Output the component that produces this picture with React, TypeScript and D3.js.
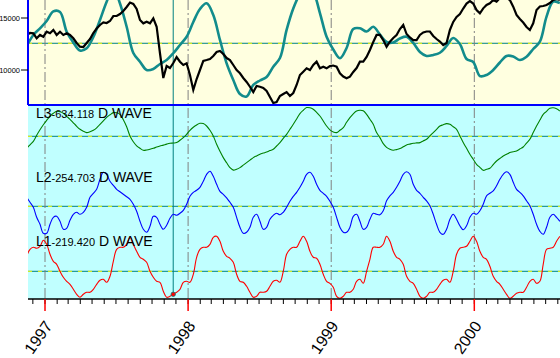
import React from "react";
import * as d3 from "d3";

const W = 560;
const H = 358;

// sampling of the series
const START = new Date(1996, 10, 15, 6);
const STEP_DAYS = 8.5;
const COMPOSITE_STEP_DAYS = 17;

const yearTicks = [1997, 1998, 1999, 2000];
const priceTicks = [10000, 15000];
const cursorDate = new Date(1997, 10, 24);

const waveNames = ["L3", "L2", "L1"];
const wavePeriods = ["-634.118", "-254.703", "-219.420"];
const waveSuffix = "D WAVE";

// price (daily close, sampled)
const price = [
  13370, 13560, 13530, 13050, 13370, 13200, 13680, 13530, 13850, 13370,
  13680, 13370, 13530, 13370, 13050, 12600, 12240, 12210, 12600, 12980,
  13560, 13990, 14330, 14570, 14520, 14710, 15190, 15190, 15380, 15670,
  16060, 16490, 16350, 15870, 14810, 14490, 14640, 14490, 14970, 14160,
  11610, 9230, 10390, 10190, 10670, 11250, 10800, 10480, 10640, 9520,
  8080, 9130, 10000, 10870, 10960, 11060, 11350, 11730, 11830, 11540,
  11150, 10960, 10480, 10000, 9680, 9230, 8850, 8390, 7880, 8460,
  8390, 8270, 7980, 7400, 6830, 6920, 7500, 7690, 7880, 7500,
  7790, 8560, 9520, 9840, 10160, 10000, 10480, 10800, 10160, 10320,
  10160, 10380, 10430, 10320, 9680, 9370, 9200, 9360, 9810, 10190,
  10800, 10800, 11250, 11920, 12690, 13370, 13370, 12880, 12240, 12720,
  13080, 13370, 13940, 14330, 13460, 13130, 12880, 12880, 13370, 13610,
  13700, 13700, 13270, 12980, 12740, 12400, 12600, 13850, 14620, 15100,
  15380, 15910, 16390, 16630, 16390, 15770, 15450, 15930, 16250, 16410,
  16730, 16570, 16920, 17020, 16920, 16730, 16090, 15290, 14900, 14570,
  14140, 13850, 14490, 15770, 16110, 16150, 16250, 16440, 16730, 16830,
  16730,
];

// composite of the waves, drawn on the price scale
const composite = [
  12310, 13370, 14010, 14710, 15630, 15580, 13680, 12640, 11870, 12090,
  13170, 14810, 16570, 17880, 16390, 14160, 11640, 10800, 10000, 10100,
  10580, 10960, 11610, 12400, 13200, 14620, 15870, 16410, 15290, 12890,
  10640, 9040, 7690, 7450, 8560, 8990, 9330, 10320, 11150, 13850,
  15910, 17310, 18080, 17500, 15480, 13200, 11970, 11130, 12120, 13940,
  14010, 13700, 14160, 13410, 12690, 12640, 13030, 13200, 12600, 11730,
  11350, 11440, 11660, 12310, 13080, 12500, 11060, 10770, 9420, 9520,
  10000, 10720, 11350, 11300, 10960, 11280, 12020, 12720, 15130, 16570,
  16440,
];
const compositeMid = 12570;

const waveL3 = [
  -12, -8.5, -5, 1, 6.5, 11.5, 16, 20, 23, 25,
  24.5, 23, 20, 17, 13.5, 10, 7, 5, 3.7, 4.5,
  6, 8.5, 12, 15.5, 19, 21.5, 23.7, 23.5, 22, 16.5,
  9.5, 0.3, -5.5, -9.5, -12, -14, -13.7, -13, -12, -10.8,
  -9.7, -8.8, -7.8, -7, -6.7, -6.3, -4, -1.3, 2, 6,
  9, 11.3, 13, 12.7, 10.3, 6, 0.3, -8, -15, -21.3,
  -26.5, -31.3, -33.8, -33, -31.3, -28.8, -26.3, -23.8, -21.3, -19.6,
  -18, -16.8, -15.7, -14.3, -13, -9.7, -6.3, -2, 2, 7,
  12, 17.3, 22.7, 26, 28.7, 28.5, 27, 24, 20.3, 15.3,
  10.3, 6.5, 4.4, 3.7, 6, 8.7, 14, 18.7, 22.5, 25.3,
  26, 25.5, 22, 17, 12, 3.7, -1.3, -7.3, -11, -13,
  -14, -13.3, -12.3, -10.5, -8.7, -7.8, -7, -6.6, -6.3, -4.6,
  -3, 0.4, 3.7, 7, 10.3, 11.5, 12.7, 12, 9.5, 7,
  0.4, -6.3, -12, -18, -23, -28, -31, -34, -33, -32,
  -28.3, -24.7, -22.2, -19.7, -18, -16.3, -15.5, -14.7, -12.7, -10.7,
  -6.8, -3, 3.7, 10.3, 16.2, 22, 25, 28, 28.5, 27.5,
  25.3,
];

const waveL2 = [
  9, 4, -1, -11, -18, -27, -27, -18, -11, -10,
  -15, -23, -22, -14, -8, -6, -8, -6, -1, 9,
  13, 17, 27, 34, 32, 25, 21, 17, 14.5, 12,
  9.5, 7, 2, -5, -15, -23, -26, -20, -10, -11,
  -18, -23, -19, -12, -8, -9, -7, -4, 2, 10,
  14, 16, 19, 25, 32, 35, 30, 22, 15, 12,
  8.5, 4, -1, -11, -21, -27, -26, -21, -11, -8,
  -15, -23, -21, -13, -9, -7, -8.5, -6, -1, 5,
  10, 14, 19, 25, 32, 34, 30, 22, 16, 13,
  10, 5, -1, -11, -21, -26, -26, -21, -10, -8,
  -15, -23, -21, -13, -7, -8, -8.5, -4.5, 5.5, 10.5,
  14, 19, 25, 32, 34.5, 32, 22, 16, 13, 9,
  5.5, 0.5, -8, -18, -26, -28, -23, -13, -8, -13,
  -19.5, -23.5, -19.5, -11, -7, -8, -4.5, 2, 10.5, 13,
  15.5, 20.5, 27, 32, 34.5, 32, 24, 17, 14, 10.5,
  5.5, 0.5, -8, -18, -25, -28, -21, -11, -8, -11,
  -15,
];

const waveL1 = [
  15, 22, 24, 23, 25, 31, 27, 17, 10, 7,
  0, -6, -10, -13, -18, -23, -26, -23, -21, -21,
  -18, -13, -9, -8, -11, -5, 10, 22, 24, 24,
  27, 34, 27, 20, 14, 12, 9, 0, -6, -10,
  -11, -20, -26, -25, -23, -21, -18, -11, -10, -11,
  -3, 14, 22, 24, 24, 27, 34, 35, 30, 20,
  15, 13, 9, -3, -10, -11, -15, -21, -26, -25,
  -21, -21, -20, -15, -10, -9, -11, 0, 17, 22,
  24, 24, 30, 35, 30, 20, 14, 13, 7, -3,
  -10, -12, -16, -25, -27, -25, -21, -21, -18, -10,
  -8, -12, 0, 12, 24, 24, 24, 27, 35, 30,
  20, 14, 12, 7, -5, -10, -12, -18, -25, -27,
  -25, -21, -21, -18, -13, -9, -8, -11, 0, 17,
  23, 24, 25, 30, 35, 30, 20, 14, 12, 5,
  -5, -10, -13, -18, -23, -27, -25, -22, -21, -21,
  -16, -10, -8, -12, -10, 7, 22, 23, 24, 30,
  35,
];

const DAY = 864e5;
const dateAt = (i: number, step: number) => new Date(START.getTime() + i * step * DAY);

const PL = 28;
const PR = 560;
const TOP0 = 0;
const TOP1 = 105;
const BOT0 = 106;
const BOT1 = 299;
const waveCenters = [136.3, 206.3, 271.3];
const waveColors = ["#008000", "#0000FF", "#FF0000"];
const labelBaselines = [118, 182, 246];

export default function App() {
  const x = d3
    .scaleTime()
    .domain([new Date(1996, 10, 18, 15), new Date(2000, 7, 6, 14)])
    .range([PL, PR]);
  const yPrice = d3.scaleLinear().domain([10000, 15000]).range([70, 18]);

  const priceLine = d3
    .line<number>()
    .x((_, i) => x(dateAt(i, STEP_DAYS)))
    .y((d) => yPrice(d))
    .curve(d3.curveLinear);
  const compLine = d3
    .line<number>()
    .x((_, i) => x(dateAt(i, COMPOSITE_STEP_DAYS)))
    .y((d) => yPrice(d))
    .curve(d3.curveCatmullRom.alpha(0.5));

  const waves = [waveL3, waveL2, waveL1];
  const waveScales = waveCenters.map((c) =>
    d3.scaleLinear().domain([-30, 30]).range([c + 30, c - 30])
  );
  const waveLines = waves.map((w, k) =>
    d3
      .line<number>()
      .x((_, i) => x(dateAt(i, STEP_DAYS)))
      .y((d) => waveScales[k](d))
      .curve(d3.curveCatmullRom.alpha(0.5))(w)
  );

  const months = d3.timeMonth.range(x.domain()[0], x.domain()[1]);
  const cursorX = x(cursorDate);
  const cursorIdx = Math.round((cursorDate.getTime() - START.getTime()) / (STEP_DAYS * DAY));
  const cursorY = waveScales[2](waveL1[cursorIdx]);

  const midLines = [yPrice(compositeMid), ...waveCenters];

  return (
    <svg
      width={W}
      height={H}
      style={{ position: "absolute", left: 0, top: 0, background: "#fff" }}
      fontFamily="'Liberation Sans', Arial, sans-serif"
    >
      <defs>
        <clipPath id="clipTop">
          <rect x={PL} y={TOP0} width={PR - PL} height={TOP1 - TOP0 + 1} />
        </clipPath>
        <clipPath id="clipBot">
          <rect x={PL} y={BOT0} width={PR - PL} height={BOT1 - BOT0} />
        </clipPath>
      </defs>

      {/* panel backgrounds */}
      <rect x={PL} y={TOP0} width={PR - PL} height={TOP1 - TOP0} fill="#FFFFE0" />
      <rect x={PL} y={BOT0} width={PR - PL} height={BOT1 - BOT0} fill="#C0FFFF" />

      {/* center lines */}
      {midLines.map((y, i) => (
        <g key={"mid" + i}>
          <line x1={PL} x2={PR} y1={y} y2={y} stroke="#008080" strokeWidth={1} />
          <line x1={PL} x2={PR} y1={y} y2={y} stroke="#FFFF00" strokeWidth={1} strokeDasharray="4,6" />
        </g>
      ))}

      {/* year grid lines */}
      {yearTicks.map((yr) => {
        const xx = x(new Date(yr, 0, 1));
        return (
          <line
            key={"g" + yr}
            x1={xx}
            x2={xx}
            y1={0}
            y2={BOT1}
            stroke="#808080"
            strokeWidth={1}
            strokeDasharray="10,3,2,3"
          />
        );
      })}

      {/* cursor */}
      <line x1={cursorX} x2={cursorX} y1={0} y2={cursorY} stroke="#008080" strokeWidth={1} />

      {/* top panel */}
      <g clipPath="url(#clipTop)">
        <path d={compLine(composite) || ""} fill="none" stroke="#128C8C" strokeWidth={2.6} />
        <path d={priceLine(price) || ""} fill="none" stroke="#000" strokeWidth={2.2} strokeLinejoin="miter" />
      </g>

      {/* waves */}
      <g clipPath="url(#clipBot)">
        {waveLines.map((d, k) => (
          <path key={"w" + k} d={d || ""} fill="none" stroke={waveColors[k]} strokeWidth={1.1} />
        ))}
      </g>
      <circle cx={cursorX} cy={cursorY} r={2.2} fill="#FF0000" stroke="#008080" strokeWidth={0.8} />

      {/* wave labels */}
      {waveNames.map((n, k) => (
        <text key={"lbl" + k} x={36} y={labelBaselines[k]} fill="#000">
          <tspan fontSize={14}>{n}</tspan>
          <tspan fontSize={11}>{wavePeriods[k]}</tspan>
          <tspan fontSize={14}>{" " + waveSuffix}</tspan>
        </text>
      ))}

      {/* top panel frame */}
      <line x1={PL} x2={PL} y1={0} y2={TOP1} stroke="#0000FF" strokeWidth={2} />
      <line x1={PL} x2={PR} y1={TOP1} y2={TOP1} stroke="#0000FF" strokeWidth={2} />

      {/* price axis */}
      {priceTicks.map((v) => (
        <g key={"pt" + v}>
          <line x1={21} x2={PL} y1={yPrice(v)} y2={yPrice(v)} stroke="#000" strokeWidth={1} />
          <text x={20} y={yPrice(v) + 2.6} fontSize={7.5} textAnchor="end" fill="#000">
            {v}
          </text>
        </g>
      ))}

      {/* time axis */}
      <line x1={PL} x2={PR} y1={BOT1} y2={BOT1} stroke="#000" strokeWidth={1.5} />
      {months.map((m, i) => {
        const xx = x(m);
        if (xx < PL || xx > PR) return null;
        return <line key={"m" + i} x1={xx} x2={xx} y1={BOT1} y2={BOT1 + 5} stroke="#000" strokeWidth={1} />;
      })}
      {yearTicks.map((yr) => {
        const xx = x(new Date(yr, 0, 1));
        return (
          <g key={"yt" + yr}>
            <line x1={xx} x2={xx} y1={BOT1} y2={BOT1 + 12} stroke="#FF0000" strokeWidth={1.5} />
            <text
              transform={`translate(${xx + 8},${326}) rotate(-55)`}
              textAnchor="end"
              fontSize={16}
              fill="#000"
            >
              {yr}
            </text>
          </g>
        );
      })}
    </svg>
  );
}
